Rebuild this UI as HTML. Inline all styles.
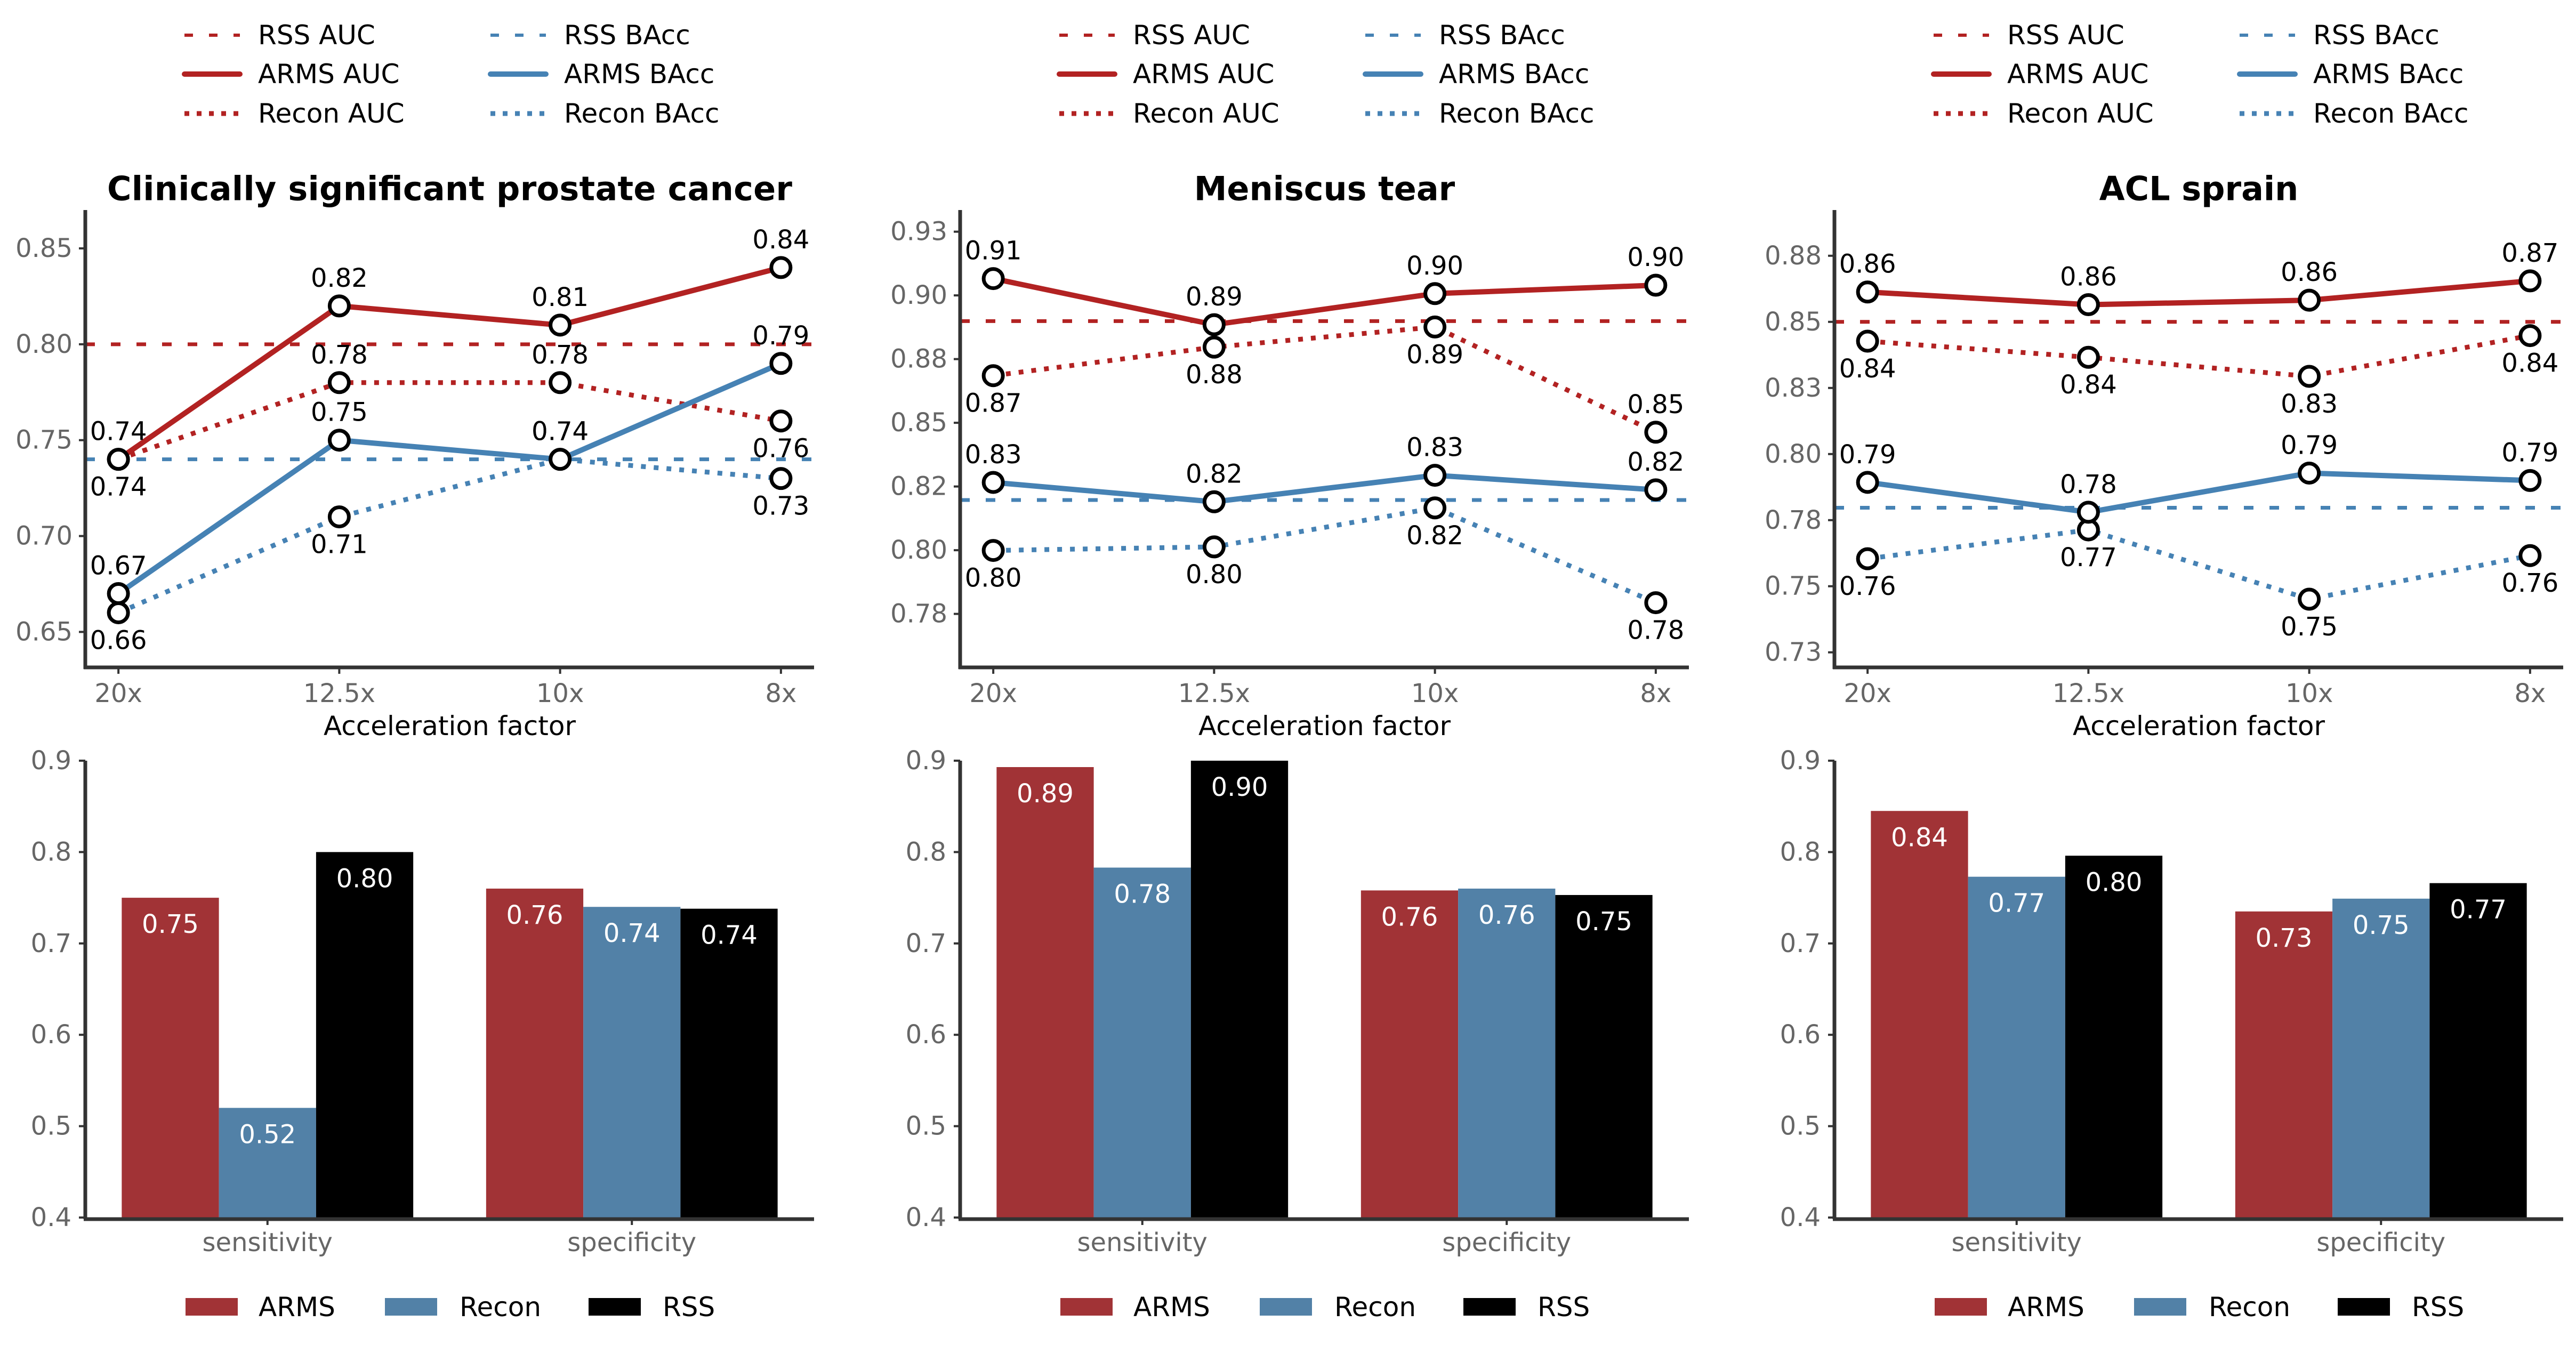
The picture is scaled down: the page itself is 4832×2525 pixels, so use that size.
<!DOCTYPE html>
<html><head><meta charset="utf-8"><style>
html,body{margin:0;padding:0;background:#fff}
svg{display:block}
text{font-family:"DejaVu Sans","Liberation Sans",sans-serif}
</style></head><body>
<svg id="fig" xmlns="http://www.w3.org/2000/svg" width="4832" height="2525" viewBox="0 0 4832 2525"></svg>
<script>
const xCats = ['20x','12.5x','10x','8x'];
const barCats = ['sensitivity','specificity'];
const panelTitles = ['Clinically significant prostate cancer','Meniscus tear','ACL sprain'];

const p1ArmsAuc = [0.74,0.82,0.81,0.84];
const p1ReconAuc = [0.74,0.78,0.78,0.76];
const p1RssAuc = 0.80;
const p1ArmsBacc = [0.67,0.75,0.74,0.79];
const p1ReconBacc = [0.66,0.71,0.74,0.73];
const p1RssBacc = 0.74;
const p1Ticks = [0.65,0.70,0.75,0.80,0.85];
const p1TickLabels = ['0.65','0.70','0.75','0.80','0.85'];
const p1Domain = [0.6315,0.87];

const p2ArmsAuc = [0.9066,0.8885,0.9007,0.904];
const p2ReconAuc = [0.8685,0.8797,0.8876,0.8463];
const p2RssAuc = 0.8899;
const p2ArmsBacc = [0.8266,0.819,0.8294,0.8237];
const p2ReconBacc = [0.7999,0.8013,0.8166,0.7794];
const p2RssBacc = 0.8197;
const p2Ticks = [0.775,0.8,0.825,0.85,0.875,0.9,0.925];
const p2TickLabels = ['0.78','0.80','0.82','0.85','0.88','0.90','0.93'];
const p2Domain = [0.754,0.9335];

const p3ArmsAuc = [0.8613,0.8565,0.8582,0.8655];
const p3ReconAuc = [0.8427,0.8366,0.8294,0.8448];
const p3RssAuc = 0.85;
const p3ArmsBacc = [0.7893,0.778,0.7928,0.79];
const p3ReconBacc = [0.7604,0.7713,0.7451,0.7616];
const p3RssBacc = 0.7797;
const p3Ticks = [0.725,0.75,0.775,0.8,0.825,0.85,0.875];
const p3TickLabels = ['0.73','0.75','0.78','0.80','0.83','0.85','0.88'];
const p3Domain = [0.7193,0.8923];

const p1ReconAucSide = ['b','a','a','b'];
const p1ReconBaccSide = ['b','b','a','b'];
const p2ReconAucSide = ['b','b','b','a'];

const p1BarArms = [0.75,0.76];
const p1BarRecon = [0.52,0.74];
const p1BarRss = [0.80,0.738];
const p2BarArms = [0.893,0.758];
const p2BarRecon = [0.783,0.760];
const p2BarRss = [0.90,0.753];
const p3BarArms = [0.845,0.735];
const p3BarRecon = [0.773,0.749];
const p3BarRss = [0.796,0.766];
const barTicks = [0.4,0.5,0.6,0.7,0.8,0.9];
const barTickLabels = ['0.4','0.5','0.6','0.7','0.8','0.9'];

const RED='#b22222', BLUE='#4682b4', BARRED='#a13336', BARBLUE='#5281a7', SPINE='#333333', GREY='#666666';
const NS='http://www.w3.org/2000/svg';
const svg=document.getElementById('fig');
function mk(tag, attrs, parent){const e=document.createElementNS(NS,tag);for(const k in attrs)e.setAttribute(k,attrs[k]);(parent||svg).appendChild(e);return e;}
function fmt(v){return v.toFixed(2);}

const panels=[
 {L:160, arms:p1ArmsAuc, recon:p1ReconAuc, rss:p1RssAuc, armsB:p1ArmsBacc, reconB:p1ReconBacc, rssB:p1RssBacc, ticks:p1Ticks, tl:p1TickLabels, dom:p1Domain, rAucSide:p1ReconAucSide, rBSide:p1ReconBaccSide, bA:p1BarArms,bR:p1BarRecon,bS:p1BarRss, titleLen:1285},
 {L:1801, arms:p2ArmsAuc, recon:p2ReconAuc, rss:p2RssAuc, armsB:p2ArmsBacc, reconB:p2ReconBacc, rssB:p2RssBacc, ticks:p2Ticks, tl:p2TickLabels, dom:p2Domain, rAucSide:p2ReconAucSide, rBSide:['b','b','b','b'], bA:p2BarArms,bR:p2BarRecon,bS:p2BarRss, titleLen:0},
 {L:3441, arms:p3ArmsAuc, recon:p3ReconAuc, rss:p3RssAuc, armsB:p3ArmsBacc, reconB:p3ReconBacc, rssB:p3RssBacc, ticks:p3Ticks, tl:p3TickLabels, dom:p3Domain, rAucSide:['b','b','b','b'], rBSide:['b','b','b','b'], bA:p3BarArms,bR:p3BarRecon,bS:p3BarRss, titleLen:0}
];
const W=1367, LT=394, LB=1252, BT=1427, BB=2284;

panels.forEach((p,pi)=>{
  const g=mk('g',{});
  
  
  const off=p.L-160;
  const leg=mk('g',{},g);
  
  
  const legItems=[
    ['RSS AUC',RED,'16 30',6,346,66],['ARMS AUC',RED,'',10,346,139],['Recon AUC',RED,'9 14',9,346,213],
    ['RSS BAcc',BLUE,'16 30',6,920,66],['ARMS BAcc',BLUE,'',10,920,139],['Recon BAcc',BLUE,'9 14',9,920,213]];
  legItems.forEach(it=>{
    const ln=mk('line',{x1:it[4]+off,x2:it[4]+off+104,y1:it[5],y2:it[5],stroke:it[1],'stroke-width':it[3],'stroke-dasharray':it[2]||'none','stroke-linecap':it[2]?'butt':'round'},leg);
    
    
    const t=mk('text',{x:it[4]+off+138,y:it[5],'font-size':50,'dominant-baseline':'central',fill:'#000'},leg);
    
    
    t.textContent=it[0];
  });
  const tt=mk('text',{x:p.L+W/2,y:354,'font-size':62,'font-weight':'bold','text-anchor':'middle','dominant-baseline':'central',fill:'#000'},g);
  if(p.titleLen) tt.setAttribute('textLength',p.titleLen);
  
  
  tt.textContent=panelTitles[pi];
  const xs=i=>p.L+(i+0.15)/3.3*W;
  const ys=v=>LB-(v-p.dom[0])/(p.dom[1]-p.dom[0])*(LB-LT);
  p.ticks.forEach((tv,i)=>{
    mk('line',{x1:p.L-12,x2:p.L,y1:ys(tv),y2:ys(tv),stroke:SPINE,'stroke-width':4},g);
    const t=mk('text',{x:p.L-24,y:ys(tv),'font-size':48,'text-anchor':'end','dominant-baseline':'central',fill:GREY},g);
    
    
    t.textContent=p.tl[i];
  });
  xCats.forEach((c,i)=>{
    mk('line',{x1:xs(i),x2:xs(i),y1:LB,y2:LB+12,stroke:SPINE,'stroke-width':4},g);
    const t=mk('text',{x:xs(i),y:1301,'font-size':48,'text-anchor':'middle','dominant-baseline':'central',fill:GREY},g);
    
    
    t.textContent=c;
  });
  const xl=mk('text',{x:p.L+W/2,y:1362,'font-size':50,'text-anchor':'middle','dominant-baseline':'central',fill:'#000'},g);
  
  
  xl.textContent='Acceleration factor';
  [[p.rss,RED,'rss-auc-line'],[p.rssB,BLUE,'rss-bacc-line']].forEach(r=>{
    const l=mk('line',{x1:p.L,x2:p.L+W,y1:ys(r[0]),y2:ys(r[0]),stroke:r[1],'stroke-width':7,'stroke-dasharray':'18 30'},g);
    
    
  });
  const series=[
    [p.recon,RED,'9 15',9,p.rAucSide,'recon-auc-line'],
    [p.reconB,BLUE,'9 15',9,p.rBSide,'recon-bacc-line'],
    [p.arms,RED,'',10,['a','a','a','a'],'arms-auc-line'],
    [p.armsB,BLUE,'',10,['a','a','a','a'],'arms-bacc-line']];
  series.forEach(s=>{
    const pts=s[0].map((v,i)=>xs(i)+','+ys(v)).join(' ');
    const pl=mk('polyline',{points:pts,fill:'none',stroke:s[1],'stroke-width':s[3],'stroke-dasharray':s[2]||'none'},g);
    
    
  });
  series.forEach(s=>{
    s[0].forEach((v,i)=>{
      const c=mk('circle',{cx:xs(i),cy:ys(v),r:18,fill:'#fff',stroke:'#000','stroke-width':7},g);
      
      
      const dy=s[4][i]==='a'?-52:52;
      const t=mk('text',{x:xs(i),y:ys(v)+dy,'font-size':48,'text-anchor':'middle','dominant-baseline':'central',fill:'#000'},g);
      
      
      t.textContent=fmt(v);
    });
  });
  mk('line',{x1:p.L,x2:p.L,y1:LT,y2:LB+3,stroke:SPINE,'stroke-width':7},g);
  mk('line',{x1:p.L-3,x2:p.L+W,y1:LB,y2:LB,stroke:SPINE,'stroke-width':7},g);

  const bx=u=>p.L+(u+0.5)/2*W;
  const by=v=>BB-(v-0.4)/0.5*(BB-BT);
  const bw=0.8/3;
  const bs=[[p.bA,BARRED,'arms-bar'],[p.bR,BARBLUE,'recon-bar'],[p.bS,'#000','rss-bar']];
  bs.forEach((b,k)=>{
    b[0].forEach((v,i)=>{
      const x0=bx(i-0.4+k*bw), x1=bx(i-0.4+(k+1)*bw);
      const r=mk('rect',{x:x0,y:by(v),width:x1-x0,height:BB-by(v),fill:b[1]},g);
      
      
      const t=mk('text',{x:(x0+x1)/2,y:by(v)+50,'font-size':48,'text-anchor':'middle','dominant-baseline':'central',fill:'#fff'},g);
      
      
      t.textContent=fmt(v);
    });
  });
  barTicks.forEach((tv,i)=>{
    mk('line',{x1:p.L-12,x2:p.L,y1:by(tv),y2:by(tv),stroke:SPINE,'stroke-width':4},g);
    const t=mk('text',{x:p.L-26,y:by(tv),'font-size':48,'text-anchor':'end','dominant-baseline':'central',fill:GREY},g);
    
    
    t.textContent=barTickLabels[i];
  });
  barCats.forEach((c,i)=>{
    mk('line',{x1:bx(i),x2:bx(i),y1:BB,y2:BB+14,stroke:SPINE,'stroke-width':4},g);
    const t=mk('text',{x:bx(i),y:2331,'font-size':48,'text-anchor':'middle','dominant-baseline':'central',fill:GREY},g);
    
    
    t.textContent=c;
  });
  mk('line',{x1:p.L,x2:p.L,y1:BT,y2:BB+3,stroke:SPINE,'stroke-width':7},g);
  mk('line',{x1:p.L-3,x2:p.L+W,y1:BB+3,y2:BB+3,stroke:SPINE,'stroke-width':7},g);
  const bl=mk('g',{},g);
  
  
  [['ARMS',BARRED,348,485],['Recon',BARBLUE,722,862],['RSS','#000',1104,1243]].forEach(it=>{
    const r=mk('rect',{x:it[2]+off,y:2435,width:98,height:33,fill:it[1]},bl);
    
    
    const t=mk('text',{x:it[3]+off,y:2452,'font-size':50,'dominant-baseline':'central',fill:'#000'},bl);
    
    
    t.textContent=it[0];
  });
});
</script>
</body></html>
